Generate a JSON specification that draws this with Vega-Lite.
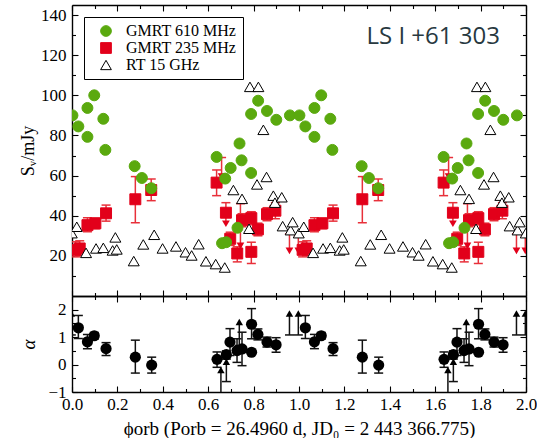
{
  "$schema": "https://vega.github.io/schema/vega-lite/v6.json",
  "padding": {"left": 19, "top": 4, "right": 0, "bottom": 0},
  "spacing": 0,
  "bounds": "flush",
  "datasets": {
    "flux": [
      {"series":"GMRT 235 MHz","phase":0.016,"S":23.0,"lo":19.5,"hi":27},
      {"series":"GMRT 235 MHz","phase":0.034,"S":23.7,"lo":20,"hi":27.5},
      {"series":"GMRT 235 MHz","phase":0.068,"S":35.3,"lo":32,"hi":39},
      {"series":"GMRT 235 MHz","phase":0.103,"S":36.2,"lo":33.5,"hi":38.8},
      {"series":"GMRT 235 MHz","phase":0.150,"S":41.2,"lo":37.3,"hi":45.3},
      {"series":"GMRT 235 MHz","phase":0.279,"S":48.2,"lo":36.5,"hi":59.5},
      {"series":"GMRT 235 MHz","phase":0.349,"S":52.8,"lo":47.5,"hi":58.3},
      {"series":"GMRT 235 MHz","phase":0.637,"S":56.5,"lo":50,"hi":62.8},
      {"series":"GMRT 235 MHz","phase":0.678,"S":41.5},
      {"series":"GMRT 235 MHz","phase":0.697,"S":28.5,"lo":25.2,"hi":31.8},
      {"series":"GMRT 235 MHz","phase":0.728,"S":21.2,"lo":17,"hi":24.5},
      {"series":"GMRT 235 MHz","phase":0.749,"S":37.8,"lo":34.5,"hi":41},
      {"series":"GMRT 235 MHz","phase":0.790,"S":38.8,"lo":35.5,"hi":42},
      {"series":"GMRT 235 MHz","phase":0.790,"S":22.0,"lo":16.2,"hi":26.8},
      {"series":"GMRT 235 MHz","phase":0.819,"S":33.2,"lo":30,"hi":36.3},
      {"series":"GMRT 235 MHz","phase":0.859,"S":40.8,"lo":37.5,"hi":44},
      {"series":"GMRT 235 MHz","phase":0.896,"S":42.5,"lo":38.5,"hi":46.5},
      {"series":"GMRT 235 MHz","phase":1.016,"S":23.0,"lo":19.5,"hi":27},
      {"series":"GMRT 235 MHz","phase":1.034,"S":23.7,"lo":20,"hi":27.5},
      {"series":"GMRT 235 MHz","phase":1.068,"S":35.3,"lo":32,"hi":39},
      {"series":"GMRT 235 MHz","phase":1.103,"S":36.2,"lo":33.5,"hi":38.8},
      {"series":"GMRT 235 MHz","phase":1.150,"S":41.2,"lo":37.3,"hi":45.3},
      {"series":"GMRT 235 MHz","phase":1.279,"S":48.2,"lo":36.5,"hi":59.5},
      {"series":"GMRT 235 MHz","phase":1.349,"S":52.8,"lo":47.5,"hi":58.3},
      {"series":"GMRT 235 MHz","phase":1.637,"S":56.5,"lo":50,"hi":62.8},
      {"series":"GMRT 235 MHz","phase":1.678,"S":41.5},
      {"series":"GMRT 235 MHz","phase":1.697,"S":28.5,"lo":25.2,"hi":31.8},
      {"series":"GMRT 235 MHz","phase":1.728,"S":21.2,"lo":17,"hi":24.5},
      {"series":"GMRT 235 MHz","phase":1.749,"S":37.8,"lo":34.5,"hi":41},
      {"series":"GMRT 235 MHz","phase":1.790,"S":38.8,"lo":35.5,"hi":42},
      {"series":"GMRT 235 MHz","phase":1.790,"S":22.0,"lo":16.2,"hi":26.8},
      {"series":"GMRT 235 MHz","phase":1.819,"S":33.2,"lo":30,"hi":36.3},
      {"series":"GMRT 235 MHz","phase":1.859,"S":40.8,"lo":37.5,"hi":44},
      {"series":"GMRT 235 MHz","phase":1.896,"S":42.5,"lo":38.5,"hi":46.5},
      {"series":"GMRT 610 MHz","phase":0.002,"S":90},
      {"series":"GMRT 610 MHz","phase":0.028,"S":84.5},
      {"series":"GMRT 610 MHz","phase":0.068,"S":93.7},
      {"series":"GMRT 610 MHz","phase":0.068,"S":79.3},
      {"series":"GMRT 610 MHz","phase":0.098,"S":100},
      {"series":"GMRT 610 MHz","phase":0.138,"S":88.3},
      {"series":"GMRT 610 MHz","phase":0.147,"S":72.8},
      {"series":"GMRT 610 MHz","phase":0.276,"S":64.7},
      {"series":"GMRT 610 MHz","phase":0.308,"S":58.8},
      {"series":"GMRT 610 MHz","phase":0.349,"S":53.7},
      {"series":"GMRT 610 MHz","phase":0.637,"S":69.3},
      {"series":"GMRT 610 MHz","phase":0.661,"S":26.3},
      {"series":"GMRT 610 MHz","phase":0.679,"S":26.8},
      {"series":"GMRT 610 MHz","phase":0.675,"S":58.5},
      {"series":"GMRT 610 MHz","phase":0.699,"S":63.8},
      {"series":"GMRT 610 MHz","phase":0.729,"S":34.0},
      {"series":"GMRT 610 MHz","phase":0.738,"S":76.0},
      {"series":"GMRT 610 MHz","phase":0.747,"S":67.6},
      {"series":"GMRT 610 MHz","phase":0.789,"S":61.3},
      {"series":"GMRT 610 MHz","phase":0.789,"S":90.7},
      {"series":"GMRT 610 MHz","phase":0.820,"S":97.3},
      {"series":"GMRT 610 MHz","phase":0.859,"S":92.2},
      {"series":"GMRT 610 MHz","phase":0.900,"S":87.8},
      {"series":"GMRT 610 MHz","phase":0.960,"S":90},
      {"series":"GMRT 610 MHz","phase":1.002,"S":90},
      {"series":"GMRT 610 MHz","phase":1.028,"S":84.5},
      {"series":"GMRT 610 MHz","phase":1.068,"S":93.7},
      {"series":"GMRT 610 MHz","phase":1.068,"S":79.3},
      {"series":"GMRT 610 MHz","phase":1.098,"S":100},
      {"series":"GMRT 610 MHz","phase":1.138,"S":88.3},
      {"series":"GMRT 610 MHz","phase":1.147,"S":72.8},
      {"series":"GMRT 610 MHz","phase":1.276,"S":64.7},
      {"series":"GMRT 610 MHz","phase":1.308,"S":58.8},
      {"series":"GMRT 610 MHz","phase":1.349,"S":53.7},
      {"series":"GMRT 610 MHz","phase":1.637,"S":69.3},
      {"series":"GMRT 610 MHz","phase":1.661,"S":26.3},
      {"series":"GMRT 610 MHz","phase":1.679,"S":26.8},
      {"series":"GMRT 610 MHz","phase":1.675,"S":58.5},
      {"series":"GMRT 610 MHz","phase":1.699,"S":63.8},
      {"series":"GMRT 610 MHz","phase":1.729,"S":34.0},
      {"series":"GMRT 610 MHz","phase":1.738,"S":76.0},
      {"series":"GMRT 610 MHz","phase":1.747,"S":67.6},
      {"series":"GMRT 610 MHz","phase":1.789,"S":61.3},
      {"series":"GMRT 610 MHz","phase":1.789,"S":90.7},
      {"series":"GMRT 610 MHz","phase":1.820,"S":97.3},
      {"series":"GMRT 610 MHz","phase":1.859,"S":92.2},
      {"series":"GMRT 610 MHz","phase":1.900,"S":87.8},
      {"series":"GMRT 610 MHz","phase":1.960,"S":90},
      {"series":"RT 15 GHz","phase":-0.001,"S":31.3},
      {"series":"RT 15 GHz","phase":0.021,"S":34.5},
      {"series":"RT 15 GHz","phase":0.062,"S":21.5},
      {"series":"RT 15 GHz","phase":0.106,"S":23.7},
      {"series":"RT 15 GHz","phase":0.138,"S":24.0},
      {"series":"RT 15 GHz","phase":0.179,"S":22.7},
      {"series":"RT 15 GHz","phase":0.191,"S":29.2},
      {"series":"RT 15 GHz","phase":0.197,"S":23.2},
      {"series":"RT 15 GHz","phase":0.272,"S":17.4},
      {"series":"RT 15 GHz","phase":0.314,"S":25.7},
      {"series":"RT 15 GHz","phase":0.362,"S":30.5},
      {"series":"RT 15 GHz","phase":0.399,"S":23.7},
      {"series":"RT 15 GHz","phase":0.458,"S":24.7},
      {"series":"RT 15 GHz","phase":0.500,"S":21.8},
      {"series":"RT 15 GHz","phase":0.527,"S":20.2},
      {"series":"RT 15 GHz","phase":0.558,"S":25.8},
      {"series":"RT 15 GHz","phase":0.590,"S":17.3},
      {"series":"RT 15 GHz","phase":0.633,"S":15.9},
      {"series":"RT 15 GHz","phase":0.673,"S":14.2},
      {"series":"RT 15 GHz","phase":0.711,"S":52.8},
      {"series":"RT 15 GHz","phase":0.749,"S":48.4},
      {"series":"RT 15 GHz","phase":0.780,"S":33.5},
      {"series":"RT 15 GHz","phase":0.784,"S":104.2},
      {"series":"RT 15 GHz","phase":0.815,"S":55.6},
      {"series":"RT 15 GHz","phase":0.821,"S":104.2},
      {"series":"RT 15 GHz","phase":0.843,"S":82.8},
      {"series":"RT 15 GHz","phase":0.857,"S":59.3},
      {"series":"RT 15 GHz","phase":0.887,"S":50.0},
      {"series":"RT 15 GHz","phase":0.894,"S":46.5},
      {"series":"RT 15 GHz","phase":0.924,"S":49.2},
      {"series":"RT 15 GHz","phase":0.928,"S":34.8},
      {"series":"RT 15 GHz","phase":0.963,"S":32.8},
      {"series":"RT 15 GHz","phase":0.972,"S":36.8},
      {"series":"RT 15 GHz","phase":0.999,"S":31.3},
      {"series":"RT 15 GHz","phase":1.021,"S":34.5},
      {"series":"RT 15 GHz","phase":1.062,"S":21.5},
      {"series":"RT 15 GHz","phase":1.106,"S":23.7},
      {"series":"RT 15 GHz","phase":1.138,"S":24.0},
      {"series":"RT 15 GHz","phase":1.179,"S":22.7},
      {"series":"RT 15 GHz","phase":1.191,"S":29.2},
      {"series":"RT 15 GHz","phase":1.197,"S":23.2},
      {"series":"RT 15 GHz","phase":1.272,"S":17.4},
      {"series":"RT 15 GHz","phase":1.314,"S":25.7},
      {"series":"RT 15 GHz","phase":1.362,"S":30.5},
      {"series":"RT 15 GHz","phase":1.399,"S":23.7},
      {"series":"RT 15 GHz","phase":1.458,"S":24.7},
      {"series":"RT 15 GHz","phase":1.500,"S":21.8},
      {"series":"RT 15 GHz","phase":1.527,"S":20.2},
      {"series":"RT 15 GHz","phase":1.558,"S":25.8},
      {"series":"RT 15 GHz","phase":1.590,"S":17.3},
      {"series":"RT 15 GHz","phase":1.633,"S":15.9},
      {"series":"RT 15 GHz","phase":1.673,"S":14.2},
      {"series":"RT 15 GHz","phase":1.711,"S":52.8},
      {"series":"RT 15 GHz","phase":1.749,"S":48.4},
      {"series":"RT 15 GHz","phase":1.780,"S":33.5},
      {"series":"RT 15 GHz","phase":1.784,"S":104.2},
      {"series":"RT 15 GHz","phase":1.815,"S":55.6},
      {"series":"RT 15 GHz","phase":1.821,"S":104.2},
      {"series":"RT 15 GHz","phase":1.843,"S":82.8},
      {"series":"RT 15 GHz","phase":1.857,"S":59.3},
      {"series":"RT 15 GHz","phase":1.887,"S":50.0},
      {"series":"RT 15 GHz","phase":1.894,"S":46.5},
      {"series":"RT 15 GHz","phase":1.924,"S":49.2},
      {"series":"RT 15 GHz","phase":1.928,"S":34.8},
      {"series":"RT 15 GHz","phase":1.963,"S":32.8},
      {"series":"RT 15 GHz","phase":1.972,"S":36.8},
      {"series":"RT 15 GHz","phase":1.999,"S":31.3}
    ],
    "ul235": [
      {"phase":-0.003,"top":30,"tip":22.5},
      {"phase":0.659,"top":69,"tip":59.5},
      {"phase":0.678,"top":46.5,"tip":36},
      {"phase":0.742,"top":46,"tip":25},
      {"phase":0.958,"top":31,"tip":22.5},
      {"phase":0.997,"top":30,"tip":22.5},
      {"phase":1.659,"top":69,"tip":59.5},
      {"phase":1.678,"top":46.5,"tip":36},
      {"phase":1.742,"top":46,"tip":25},
      {"phase":1.958,"top":31,"tip":22.5},
      {"phase":1.997,"top":30,"tip":22.5}
    ],
    "alpha": [
      {"phase":0.028,"a":1.34,"lo":0.95,"hi":1.79},
      {"phase":0.068,"a":0.83,"lo":0.58,"hi":1.1},
      {"phase":0.098,"a":1.05,"lo":0.93,"hi":1.17},
      {"phase":0.150,"a":0.58,"lo":0.33,"hi":0.8},
      {"phase":0.279,"a":0.27,"lo":-0.31,"hi":0.89},
      {"phase":0.351,"a":-0.02,"lo":-0.31,"hi":0.27},
      {"phase":0.639,"a":0.19,"lo":-0.1,"hi":0.46},
      {"phase":0.680,"a":0.36,"lo":0.2,"hi":0.5},
      {"phase":0.696,"a":0.82,"lo":0.33,"hi":1.31},
      {"phase":0.727,"a":0.51,"lo":0.08,"hi":0.94},
      {"phase":0.749,"a":0.57,"lo":-0.04,"hi":1.18},
      {"phase":0.791,"a":1.47,"lo":0.94,"hi":2.04},
      {"phase":0.791,"a":0.45,"lo":0.4,"hi":0.5},
      {"phase":0.819,"a":1.1,"lo":0.9,"hi":1.3},
      {"phase":0.859,"a":0.82,"lo":0.64,"hi":1.0},
      {"phase":0.899,"a":0.72,"lo":0.45,"hi":0.98},
      {"phase":1.028,"a":1.34,"lo":0.95,"hi":1.79},
      {"phase":1.068,"a":0.83,"lo":0.58,"hi":1.1},
      {"phase":1.098,"a":1.05,"lo":0.93,"hi":1.17},
      {"phase":1.150,"a":0.58,"lo":0.33,"hi":0.8},
      {"phase":1.279,"a":0.27,"lo":-0.31,"hi":0.89},
      {"phase":1.351,"a":-0.02,"lo":-0.31,"hi":0.27},
      {"phase":1.639,"a":0.19,"lo":-0.1,"hi":0.46},
      {"phase":1.680,"a":0.36,"lo":0.2,"hi":0.5},
      {"phase":1.696,"a":0.82,"lo":0.33,"hi":1.31},
      {"phase":1.727,"a":0.51,"lo":0.08,"hi":0.94},
      {"phase":1.749,"a":0.57,"lo":-0.04,"hi":1.18},
      {"phase":1.791,"a":1.47,"lo":0.94,"hi":2.04},
      {"phase":1.791,"a":0.45,"lo":0.4,"hi":0.5},
      {"phase":1.819,"a":1.1,"lo":0.9,"hi":1.3},
      {"phase":1.859,"a":0.82,"lo":0.64,"hi":1.0},
      {"phase":1.899,"a":0.72,"lo":0.45,"hi":0.98}
    ],
    "alphaLL": [
      {"phase":-0.003,"base":1.08,"tip":1.86},
      {"phase":0.656,"base":-1.3,"tip":-0.2},
      {"phase":0.680,"base":-0.62,"tip":0.1},
      {"phase":0.737,"base":0.7,"tip":1.55},
      {"phase":0.958,"base":1.08,"tip":1.86},
      {"phase":0.997,"base":1.08,"tip":1.86},
      {"phase":1.656,"base":-1.3,"tip":-0.2},
      {"phase":1.680,"base":-0.62,"tip":0.1},
      {"phase":1.737,"base":0.7,"tip":1.55},
      {"phase":1.958,"base":1.08,"tip":1.86},
      {"phase":1.997,"base":1.08,"tip":1.86}
    ]
  },
  "vconcat": [
    {
      "width": 454,
      "height": 291,
      "resolve": {"axis": {"x": "independent", "y": "independent"}},
      "layer": [
        {
          "data": {"name": "flux"},
          "transform": [{"filter": "isValid(datum.lo)"}],
          "mark": {"type": "rule", "color": "#e8303a", "strokeWidth": 1.5, "clip": true},
          "encoding": {
            "x": {"field": "phase", "type": "quantitative", "scale": {"domain": [0, 2], "nice": false, "zero": false},
                  "axis": {"orient": "bottom", "values": [0,0.2,0.4,0.6,0.8,1,1.2,1.4,1.6,1.8,2], "tickSize": -6, "labels": false, "domain": true, "title": null}},
            "y": {"field": "lo", "type": "quantitative", "scale": {"domain": [0, 145], "nice": false, "zero": false},
                  "axis": {"orient": "left", "values": [20,40,60,80,100,120,140], "ticks": false, "domain": true, "labelPadding": 6, "title": "Sᵥ/mJy", "titleFontSize": 18, "titleX": -44, "titleY": 145.5, "titleBaseline": "middle", "titleAlign": "center"}},
            "y2": {"field": "hi"}
          }
        },
        {
          "data": {"name": "flux"},
          "transform": [{"filter": "isValid(datum.lo)"}],
          "mark": {"type": "tick", "orient": "horizontal", "color": "#e8303a", "size": 9, "thickness": 1.5, "opacity": 1, "clip": true},
          "encoding": {
            "x": {"field": "phase", "type": "quantitative",
                  "axis": {"orient": "bottom", "values": [0.1,0.3,0.5,0.7,0.9,1.1,1.3,1.5,1.7,1.9], "tickSize": -3.5, "labels": false, "domain": false, "title": null}},
            "y": {"field": "lo", "type": "quantitative",
                  "axis": {"orient": "left", "values": [20,40,60,80,100,120,140], "tickSize": -6, "labels": false, "domain": false, "title": null}}
          }
        },
        {
          "data": {"name": "flux"},
          "transform": [{"filter": "isValid(datum.lo)"}],
          "mark": {"type": "tick", "orient": "horizontal", "color": "#e8303a", "size": 9, "thickness": 1.5, "opacity": 1, "clip": true},
          "encoding": {
            "x": {"field": "phase", "type": "quantitative",
                  "axis": {"orient": "top", "values": [0,0.2,0.4,0.6,0.8,1,1.2,1.4,1.6,1.8,2], "tickSize": -6, "labels": false, "domain": true, "title": null}},
            "y": {"field": "hi", "type": "quantitative",
                  "axis": {"orient": "right", "values": [20,40,60,80,100,120,140], "tickSize": -6, "labels": false, "domain": true, "title": null}}
          }
        },
        {
          "data": {"name": "ul235"},
          "mark": {"type": "rule", "color": "#e8303a", "strokeWidth": 1.5, "clip": true},
          "encoding": {
            "x": {"field": "phase", "type": "quantitative",
                  "axis": {"orient": "top", "values": [0.1,0.3,0.5,0.7,0.9,1.1,1.3,1.5,1.7,1.9], "tickSize": -3.5, "labels": false, "domain": false, "title": null}},
            "y": {"field": "top", "type": "quantitative",
                  "axis": {"orient": "left", "values": [10,30,50,70,90,110,130], "tickSize": -3.5, "labels": false, "domain": false, "title": null}},
            "y2": {"field": "tip"}
          }
        },
        {
          "data": {"name": "ul235"},
          "mark": {"type": "tick", "orient": "horizontal", "color": "#e8303a", "size": 9, "thickness": 1.5, "opacity": 1, "clip": true},
          "encoding": {
            "x": {"field": "phase", "type": "quantitative", "axis": null},
            "y": {"field": "top", "type": "quantitative",
                  "axis": {"orient": "right", "values": [10,30,50,70,90,110,130], "tickSize": -3.5, "labels": false, "domain": false, "title": null}}
          }
        },
        {
          "data": {"name": "ul235"},
          "mark": {"type": "point", "shape": "triangle-down", "filled": true, "color": "#e2001a", "size": 60, "opacity": 1, "clip": true},
          "encoding": {
            "x": {"field": "phase", "type": "quantitative", "axis": null},
            "y": {"field": "tip", "type": "quantitative", "axis": null}
          }
        },
        {
          "data": {"name": "flux"},
          "mark": {"type": "point", "opacity": 1, "strokeWidth": 1, "size": 120, "clip": true},
          "encoding": {
            "x": {"field": "phase", "type": "quantitative", "axis": null},
            "y": {"field": "S", "type": "quantitative", "axis": null},
            "shape": {"field": "series", "type": "nominal", "scale": {"domain": ["GMRT 610 MHz", "GMRT 235 MHz", "RT 15 GHz"], "range": ["circle", "square", "triangle-up"]},
                      "legend": {"title": null, "orient": "top-left", "offset": 12}},
            "fill": {"field": "series", "type": "nominal", "scale": {"domain": ["GMRT 610 MHz", "GMRT 235 MHz", "RT 15 GHz"], "range": ["#5aa90e", "#e2001a", "#ffffff"]},
                     "legend": {"title": null, "orient": "top-left", "offset": 12}},
            "stroke": {"field": "series", "type": "nominal", "scale": {"domain": ["GMRT 610 MHz", "GMRT 235 MHz", "RT 15 GHz"], "range": ["#5aa90e", "#e2001a", "#000000"]},
                       "legend": {"title": null, "orient": "top-left", "offset": 12}}
          }
        },
        {
          "data": {"values": [{}]},
          "mark": {"type": "text", "text": "LS I +61 303", "font": "Open Sans", "fontSize": 24, "color": "#28393f", "align": "right", "baseline": "middle"},
          "encoding": {
            "x": {"datum": 1.885, "type": "quantitative", "axis": null},
            "y": {"datum": 129, "type": "quantitative", "axis": null}
          }
        }
      ]
    },
    {
      "width": 454,
      "height": 96,
      "resolve": {"axis": {"x": "independent", "y": "independent"}},
      "layer": [
        {
          "data": {"name": "alpha"},
          "mark": {"type": "rule", "color": "#111111", "strokeWidth": 1.5, "clip": true},
          "encoding": {
            "x": {"field": "phase", "type": "quantitative", "scale": {"domain": [0, 2], "nice": false, "zero": false},
                  "axis": {"orient": "bottom", "values": [0,0.2,0.4,0.6,0.8,1,1.2,1.4,1.6,1.8,2], "format": ".1f", "ticks": false, "domain": true, "labelPadding": 4, "title": "ϕorb (Porb = 26.4960 d, JD₀ = 2 443 366.775)", "titleFontSize": 19, "titlePadding": 7}},
            "y": {"field": "lo", "type": "quantitative", "scale": {"domain": [-1, 2.5], "nice": false, "zero": false},
                  "axis": {"orient": "left", "values": [-1,0,1,2], "ticks": false, "domain": true, "labelPadding": 6, "title": "α", "titleFontSize": 19, "titleFontStyle": "italic", "titleX": -44, "titleY": 48, "titleBaseline": "middle", "titleAlign": "center"}},
            "y2": {"field": "hi"}
          }
        },
        {
          "data": {"name": "alpha"},
          "mark": {"type": "tick", "orient": "horizontal", "color": "#111111", "size": 9, "thickness": 1.5, "opacity": 1, "clip": true},
          "encoding": {
            "x": {"field": "phase", "type": "quantitative",
                  "axis": {"orient": "bottom", "values": [0,0.2,0.4,0.6,0.8,1,1.2,1.4,1.6,1.8,2], "tickSize": -6, "labels": false, "domain": false, "title": null}},
            "y": {"field": "lo", "type": "quantitative",
                  "axis": {"orient": "left", "values": [-1,0,1,2], "tickSize": -6, "labels": false, "domain": false, "title": null}}
          }
        },
        {
          "data": {"name": "alpha"},
          "mark": {"type": "tick", "orient": "horizontal", "color": "#111111", "size": 9, "thickness": 1.5, "opacity": 1, "clip": true},
          "encoding": {
            "x": {"field": "phase", "type": "quantitative",
                  "axis": {"orient": "bottom", "values": [0.1,0.3,0.5,0.7,0.9,1.1,1.3,1.5,1.7,1.9], "tickSize": -3.5, "labels": false, "domain": false, "title": null}},
            "y": {"field": "hi", "type": "quantitative",
                  "axis": {"orient": "left", "values": [-0.5,0.5,1.5], "tickSize": -3.5, "labels": false, "domain": false, "title": null}}
          }
        },
        {
          "data": {"name": "alphaLL"},
          "mark": {"type": "rule", "color": "#111111", "strokeWidth": 1.5, "clip": true},
          "encoding": {
            "x": {"field": "phase", "type": "quantitative",
                  "axis": {"orient": "top", "values": [0,0.2,0.4,0.6,0.8,1,1.2,1.4,1.6,1.8,2], "tickSize": -6, "labels": false, "domain": true, "title": null}},
            "y": {"field": "base", "type": "quantitative",
                  "axis": {"orient": "right", "values": [-1,0,1,2], "tickSize": -6, "labels": false, "domain": true, "title": null}},
            "y2": {"field": "tip"}
          }
        },
        {
          "data": {"name": "alphaLL"},
          "mark": {"type": "tick", "orient": "horizontal", "color": "#111111", "size": 9, "thickness": 1.5, "opacity": 1, "clip": true},
          "encoding": {
            "x": {"field": "phase", "type": "quantitative",
                  "axis": {"orient": "top", "values": [0.1,0.3,0.5,0.7,0.9,1.1,1.3,1.5,1.7,1.9], "tickSize": -3.5, "labels": false, "domain": false, "title": null}},
            "y": {"field": "base", "type": "quantitative",
                  "axis": {"orient": "right", "values": [-0.5,0.5,1.5], "tickSize": -3.5, "labels": false, "domain": false, "title": null}}
          }
        },
        {
          "data": {"name": "alphaLL"},
          "mark": {"type": "point", "shape": "triangle-up", "filled": true, "color": "#000000", "size": 55, "opacity": 1, "clip": true},
          "encoding": {
            "x": {"field": "phase", "type": "quantitative", "axis": null},
            "y": {"field": "tip", "type": "quantitative", "axis": null}
          }
        },
        {
          "data": {"name": "alpha"},
          "mark": {"type": "point", "shape": "circle", "filled": true, "color": "#000000", "size": 125, "opacity": 1, "clip": true},
          "encoding": {
            "x": {"field": "phase", "type": "quantitative", "axis": null},
            "y": {"field": "a", "type": "quantitative", "axis": null}
          }
        }
      ]
    }
  ],
  "config": {
    "view": {"stroke": null},
    "axis": {
      "grid": false,
      "labelFont": "Liberation Serif, Times New Roman, serif",
      "titleFont": "Liberation Serif, Times New Roman, serif",
      "labelFontSize": 17,
      "titleFontSize": 17,
      "titleFontWeight": "normal",
      "labelColor": "#000000",
      "titleColor": "#000000",
      "domainColor": "#000000",
      "tickColor": "#000000",
      "domainWidth": 1.4,
      "tickWidth": 1.1,
      "labelFlush": false,
      "labelOverlap": false
    },
    "legend": {
      "padding": 6,
      "strokeColor": "#000000",
      "fillColor": "#ffffff",
      "labelFont": "Liberation Serif, Times New Roman, serif",
      "labelFontSize": 16,
      "labelColor": "#000000",
      "symbolSize": 115,
      "symbolStrokeWidth": 1,
      "symbolOffset": 8,
      "labelOffset": 12,
      "rowPadding": 1
    }
  }
}
